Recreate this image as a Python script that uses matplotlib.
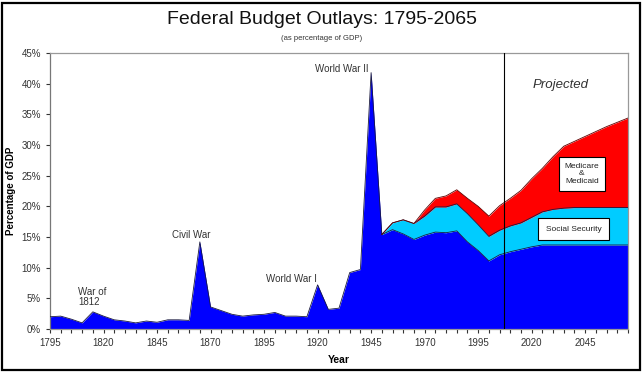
import numpy as np
import matplotlib.pyplot as plt
from matplotlib.patches import Rectangle
from matplotlib.ticker import FixedLocator, MultipleLocator, FuncFormatter

plt.rcParams['font.family'] = ['Liberation Sans', 'DejaVu Sans']

# years on a 5-year grid
years = [1795, 1800, 1805, 1810, 1815, 1820, 1825, 1830, 1835, 1840,
         1845, 1850, 1855, 1860, 1865, 1870, 1875, 1880, 1885, 1890,
         1895, 1900, 1905, 1910, 1915, 1920, 1925, 1930, 1935, 1940,
         1945, 1950, 1955, 1960, 1965, 1970, 1975, 1980, 1985, 1990,
         1995, 2000, 2005, 2010, 2015, 2020, 2025, 2030, 2035, 2040,
         2045, 2050, 2055, 2060, 2065]

# all other outlays (% of GDP)
other_pct = [2.0, 2.1, 1.6, 1.0, 2.8, 2.1, 1.5, 1.3, 1.0, 1.3,
             1.1, 1.5, 1.5, 1.4, 14.2, 3.6, 3.0, 2.4, 2.1, 2.3,
             2.4, 2.7, 2.1, 2.1, 2.0, 7.2, 3.2, 3.4, 9.2, 9.7,
             41.8, 15.4, 16.2, 15.5, 14.6, 15.3, 15.8, 15.7, 16.0, 14.2,
             12.8, 11.1, 12.1, 12.6, 13.0, 13.4, 13.7, 13.7, 13.7, 13.7,
             13.7, 13.7, 13.7, 13.7, 13.7]

# programs, from 1950 onwards
prog_years = years[31:]
ss_pct = [0.0, 1.1, 2.3, 2.6, 3.1, 4.1, 4.2, 4.4, 4.6, 4.2,
          4.0, 4.0, 4.2, 4.3, 4.8, 5.4, 5.8, 6.0, 6.1, 6.1,
          6.1, 6.1, 6.1, 6.1]
med_pct = [0.0, 0.0, 0.0, 0.0, 1.0, 1.4, 1.8, 2.3, 2.5, 3.0,
           3.3, 4.0, 4.5, 5.3, 6.3, 7.1, 8.6, 10.1, 10.8, 11.6,
           12.4, 13.2, 13.9, 14.6]

projection_start = 2007

yr = np.array(years)
other = np.array(other_pct)
pad = len(years) - len(prog_years)
ss = np.concatenate([np.zeros(pad), ss_pct])
med = np.concatenate([np.zeros(pad), med_pct])
ss_top = other + ss
total = ss_top + med

fig = plt.figure(figsize=(6.43, 3.72), dpi=100)
ax = fig.add_axes([50/643, 1-329/372, 578/643, 276/372])

edge = '#1a1a40'
ax.fill_between(yr, 0, other, color='#0000ff', linewidth=0, zorder=2)
ax.fill_between(yr, other, ss_top, where=yr >= 1950, color='#00ccff', linewidth=0, zorder=2)
ax.fill_between(yr, ss_top, total, where=yr >= 1950, color='#ff0000', linewidth=0, zorder=2)
ax.plot(yr, other, color=edge, lw=0.6, zorder=3)
m = yr >= 1950
ax.plot(yr[m], ss_top[m], color=edge, lw=0.6, zorder=3)
ax.plot(yr[m], total[m], color='#600000', lw=0.6, zorder=3)

ax.axvline(projection_start, color='black', lw=0.8, zorder=4)

ax.set_xlim(1795, 2065)
ax.set_ylim(0, 45)
ax.xaxis.set_major_locator(FixedLocator(range(1795, 2066, 25)))
ax.xaxis.set_minor_locator(FixedLocator(range(1795, 2066, 5)))
ax.yaxis.set_major_locator(MultipleLocator(5))
ax.yaxis.set_major_formatter(FuncFormatter(lambda v, p: '%d%%' % v))
ax.tick_params(axis='both', labelsize=7, colors='#333333', length=3, width=0.8, direction='out')
ax.tick_params(axis='x', which='minor', length=3, width=0.8, colors='#333333')
for s in ax.spines.values():
    s.set_color('#999999')
    s.set_linewidth(0.9)
ax.spines['left'].set_color('#777777')

ax.set_xlabel('Year', fontsize=7.5, fontweight='bold', labelpad=5)
ax.set_ylabel('Percentage of GDP', fontsize=7, fontweight='bold', labelpad=4)

# annotations
ax.text(1808, 5.2, 'War of\n1812', fontsize=7, color='#333333', ha='left', va='center', linespacing=1.0)
ax.text(1861, 15.3, 'Civil War', fontsize=7, color='#333333', ha='center', va='center')
ax.text(1908, 8.2, 'World War I', fontsize=7, color='#333333', ha='center', va='center')
ax.text(1931.5, 42.4, 'World War II', fontsize=7, color='#333333', ha='center', va='center')
ax.text(2033.5, 39.8, 'Projected', fontsize=9.5, style='italic', color='#333333', ha='center', va='center')
ax.text(2043.5, 25.3, 'Medicare\n&\nMedicaid', fontsize=6, color='#222222', ha='center', va='center',
        linespacing=1.1, zorder=5,
        bbox=dict(boxstyle='square,pad=0.7', facecolor='white', edgecolor='black', linewidth=0.8))
ax.text(2039.5, 16.3, 'Social Security', fontsize=6, color='#222222', ha='center', va='center', zorder=5,
        bbox=dict(boxstyle='square,pad=0.9', facecolor='white', edgecolor='black', linewidth=0.8))

fig.text(322/643, 1-20/372, 'Federal Budget Outlays: 1795-2065', fontsize=14, ha='center', va='center', color='#111111')
fig.text(322/643, 1-39/372, '(as percentage of GDP)', fontsize=5.5, ha='center', va='center', color='#333333')

# outer frame
fig.patches.append(Rectangle((2/643, 2/372), 638/643, 367/372, transform=fig.transFigure,
                             fill=False, edgecolor='black', linewidth=1.6))

fig.savefig('out.png', dpi=100)
